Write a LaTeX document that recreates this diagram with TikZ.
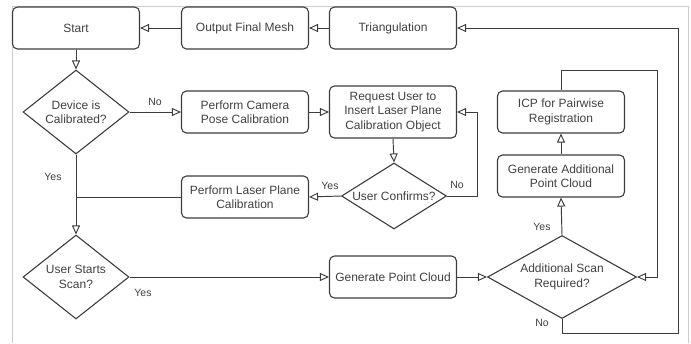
\documentclass[tikz,border=0pt]{standalone}
\usepackage{fontspec}
\setmainfont{Liberation Sans}
\usetikzlibrary{shapes.geometric,arrows.meta}
\definecolor{linec}{HTML}{3C3C3C}
\definecolor{textc}{HTML}{404040}
\definecolor{framec}{HTML}{CCCCCC}
\begin{document}
\begin{tikzpicture}[x=1pt,y=-1pt,
  box/.style={draw=linec, line width=1.1pt, rounded corners=5pt, rectangle,
    minimum width=127pt, minimum height=42pt, inner sep=0pt, align=center,
    text=textc, font=\fontsize{12}{14.5}\selectfont},
  dia/.style={draw=linec, line width=1.1pt, diamond, inner sep=0pt},
  dtxt/.style={align=center, text=textc, font=\fontsize{12}{14.5}\selectfont, inner sep=0pt},
  arr/.style={draw=linec, line width=0.95pt, -{Triangle[open, length=9pt, width=8pt]}},
  ln/.style={draw=linec, line width=0.95pt},
  lab/.style={text=textc, font=\fontsize{10.5}{12}\selectfont, inner sep=0pt}
]
\useasboundingbox (0,0) rectangle (691,343);
\draw[framec, line width=0.8pt] (12,343) -- (12,6) -- (688,6) -- (688,343);

\node[box] (start) at (76,28) {Start};
\node[box] (out) at (245,28) {Output Final Mesh};
\node[box] (tri) at (393,28) {Triangulation};
\node[dia, minimum width=106pt, minimum height=84pt,
  label={[dtxt]center:Device is\\Calibrated?}] (dev) at (76,112) {};
\node[box] (cam) at (245,112) {Perform Camera\\Pose Calibration};
\node[box, minimum height=52pt] (req) at (393,112) {Request User to\\Insert Laser Plane\\Calibration Object};
\node[box] (icp) at (561,112) {ICP for Pairwise\\Registration};
\node[dia, minimum width=105pt, minimum height=66pt,
  label={[dtxt]center:User Confirms?}] (conf) at (394,196) {};
\node[box] (laser) at (245,197) {Perform Laser Plane\\Calibration};
\node[box] (genadd) at (561,176) {Generate Additional\\Point Cloud};
\node[dia, minimum width=106pt, minimum height=84pt,
  label={[dtxt]center:User Starts\\Scan?}] (scan) at (76,277) {};
\node[box] (gpc) at (393,277) {Generate Point Cloud};
\node[dia, minimum width=149pt, minimum height=83pt,
  label={[dtxt]center:Additional Scan\\Required?}] (add) at (562,277) {};

\coordinate (k1) at (657,70);
\coordinate (k2) at (678,333);

\draw[arr] (tri.west) -- (out.east);
\draw[arr] (out.west) -- (start.east);
\draw[arr] (start.south) -- (dev.north);
\draw[arr] (dev.east) -- (cam.west);
\draw[arr] (cam.east) -- (req.west);
\draw[arr] (req.south) -- (conf.north);
\draw[arr] (conf.east) -- ++(30,0) |- (req.east);
\draw[arr] (conf.west) -- (laser.east);
\draw[ln] (laser.west) -- (laser.west -| dev.south);
\draw[arr] (dev.south) -- (scan.north);
\draw[arr] (scan.east) -- (gpc.west);
\draw[arr] (gpc.east) -- (add.west);
\draw[arr] (add.north) -- (genadd.south);
\draw[arr] (genadd.north) -- (icp.south);
\draw[arr] (icp.north) |- (k1) |- (add.east);
\draw[arr] (add.south) |- (k2) |- (tri.east);

\node[lab] (l1) at (155,102) {No};
\node[lab] (l2) at (457,185) {No};
\node[lab] (l3) at (330,186) {Yes};
\node[lab] (l4) at (53,177) {Yes};
\node[lab] (l5) at (143,293) {Yes};
\node[lab] (l6) at (542,227) {Yes};
\node[lab] (l7) at (542,323) {No};
\end{tikzpicture}
\end{document}
